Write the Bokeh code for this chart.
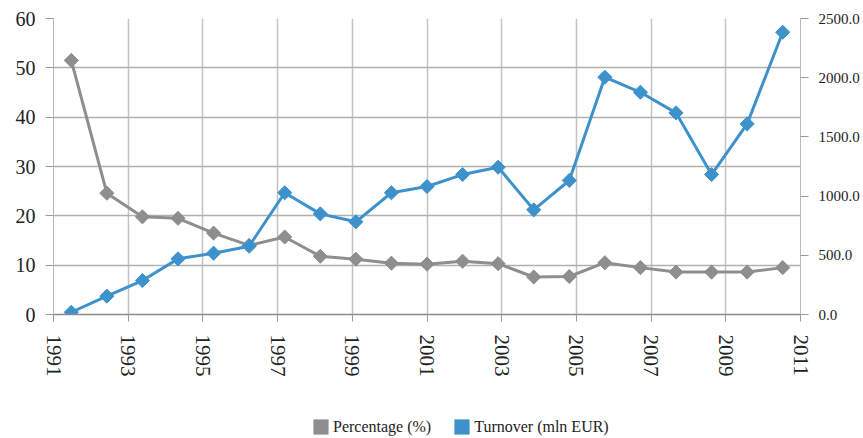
import math
from bokeh.plotting import figure
from bokeh.layouts import column
from bokeh.models import (Range1d, LinearAxis, FixedTicker, NumeralTickFormatter,
                          Legend, LegendItem, ColumnDataSource)
from bokeh.embed import file_html
from bokeh.resources import INLINE

years = list(range(1991, 2012))
percentage = [51.5, 24.6, 19.8, 19.5, 16.5, 14.0, 15.7, 11.8, 11.2, 10.4, 10.2,
              10.8, 10.3, 7.6, 7.7, 10.5, 9.5, 8.6, 8.6, 8.6, 9.5]
turnover = [19, 155, 287, 470, 518, 577, 1028, 850, 783, 1028, 1081,
            1182, 1244, 884, 1132, 2004, 1877, 1703, 1182, 1610, 2384]
x_ticks = list(range(1991, 2012, 2))
left_ticks = [0, 10, 20, 30, 40, 50, 60]
right_ticks = [0, 500, 1000, 1500, 2000, 2500]
series_names = ["Percentage (%)", "Turnover (mln EUR)"]

GREY = "#8e8e90"
BLUE = "#3d92cc"
FONT = "Liberation Serif"

# categories centred in equal-width bins across the year span
n = len(years)
span = years[-1] - years[0]
xs = [years[0] + (i + 0.5) * span / n for i in range(n)]

src = ColumnDataSource(data=dict(x=xs, pct=percentage, turn=turnover))

p = figure(width=863, height=400, output_backend="svg", toolbar_location=None,
           x_range=Range1d(1991, 2011), y_range=Range1d(0, 60),
           min_border_left=53, min_border_right=63, min_border_top=18,
           min_border_bottom=86)
p.outline_line_color = None
p.background_fill_color = "white"
p.extra_y_ranges = {"turn": Range1d(0, 2500)}

# x axis
xa = p.xaxis[0]
xa.ticker = FixedTicker(ticks=x_ticks)
xa.major_label_orientation = "vertical"
xa.major_label_text_font = FONT
xa.major_label_text_font_size = "21px"
xa.major_label_text_color = "#222222"
xa.major_tick_out = 7
xa.major_tick_in = 0
xa.minor_tick_out = 0
xa.minor_tick_in = 0
xa.major_label_standoff = 13
xa.axis_line_color = "#8a8a8a"
xa.major_tick_line_color = "#9a9a9a"
xa.axis_line_width = 1.5

# left axis
ya = p.yaxis[0]
ya.ticker = FixedTicker(ticks=left_ticks)
ya.major_label_text_font = FONT
ya.major_label_text_font_size = "20px"
ya.major_label_text_color = "#222222"
ya.major_tick_out = 8
ya.major_tick_in = 0
ya.minor_tick_out = 0
ya.minor_tick_in = 0
ya.major_label_standoff = 10
ya.axis_line_color = "#b8b8b8"
ya.major_tick_line_color = "#9a9a9a"

# right axis
ra = LinearAxis(y_range_name="turn", ticker=FixedTicker(ticks=right_ticks),
                formatter=NumeralTickFormatter(format="0.0"))
ra.major_label_text_font = FONT
ra.major_label_text_font_size = "15px"
ra.major_label_text_color = "#222222"
ra.major_tick_out = 8
ra.major_tick_in = 0
ra.minor_tick_out = 0
ra.minor_tick_in = 0
ra.major_label_standoff = 10
ra.axis_line_color = "#b8b8b8"
ra.major_tick_line_color = "#9a9a9a"
p.add_layout(ra, "right")

p.xgrid.grid_line_color = "#c2c2c2"
p.xgrid.grid_line_width = 1.5
p.ygrid.grid_line_color = "#b0b0b0"
p.ygrid.grid_line_width = 1.5

# series
p.line("x", "pct", source=src, color=GREY, line_width=3)
p.scatter("x", "pct", source=src, marker="square", angle=math.pi / 4, size=10,
          color=GREY)
p.line("x", "turn", source=src, color=BLUE, line_width=3, y_range_name="turn")
p.scatter("x", "turn", source=src, marker="square", angle=math.pi / 4, size=10,
          color=BLUE, y_range_name="turn")

# legend strip below the chart
lg = figure(width=863, height=38, output_backend="svg", toolbar_location=None,
            x_range=Range1d(0, 1), y_range=Range1d(0, 1),
            x_axis_type=None, y_axis_type=None,
            min_border_left=53, min_border_right=63, min_border_top=0,
            min_border_bottom=0)
lg.outline_line_color = None
lg.xgrid.visible = False
lg.ygrid.visible = False
# swatch glyphs sit outside the visible range; only their legend icons show
sw1 = lg.quad(left=[5], right=[6], top=[5], bottom=[6], fill_color=GREY, line_color=None)
sw2 = lg.quad(left=[5], right=[6], top=[5], bottom=[6], fill_color=BLUE, line_color=None)
legend = Legend(items=[LegendItem(label=series_names[0], renderers=[sw1]),
                       LegendItem(label=series_names[1], renderers=[sw2])],
                orientation="horizontal", location=(258, 2),
                glyph_width=19, glyph_height=19, label_standoff=3, spacing=21,
                padding=0, margin=0, border_line_color=None,
                background_fill_alpha=0,
                label_text_font=FONT, label_text_font_size="16px",
                label_text_color="#222222")
lg.add_layout(legend, "center")

open("out.html", "w").write(file_html(column(p, lg), INLINE))
